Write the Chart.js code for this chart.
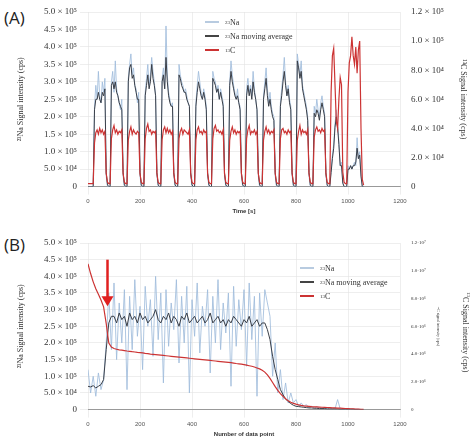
<!DOCTYPE html>
<html><head><meta charset="utf-8">
<script src="https://cdn.jsdelivr.net/npm/chart.js@4"></script>
<style>
body{margin:0;background:#fff;width:474px;height:438px;position:relative;overflow:hidden;font-family:"Open Sans",sans-serif}
.c{position:absolute;left:0}
.lab{position:absolute;font-size:17px;color:#222}
.leg{position:absolute;font-size:8px;color:#333;font-family:"Liberation Serif",serif}
.leg div{height:14px;display:flex;align-items:center}
.leg span{display:inline-block;width:14px;height:2px;margin-right:6px}
.rt{position:absolute;transform:rotate(90deg);transform-origin:left top;font-size:8px;color:#333;white-space:nowrap;font-family:"Liberation Serif",serif}
</style></head><body>
<div class="lab" style="left:4px;top:6px">(A)</div>
<div class="lab" style="left:4px;top:233px">(B)</div>
<div style="position:absolute;left:0;top:0;width:474px;height:215px"><canvas id="a" class="c"></canvas></div>
<div style="position:absolute;left:0;top:225px;width:474px;height:213px"><canvas id="b" class="c"></canvas></div>
<div class="leg" style="left:205px;top:15px">
<div><span style="background:#b8cbe0"></span><sup style="font-size:5px">23</sup>Na</div>
<div><span style="background:#444"></span><sup style="font-size:5px">23</sup>Na moving average</div>
<div><span style="background:#cc3333"></span><sup style="font-size:5px">13</sup>C</div>
</div>
<div class="leg" style="left:300px;top:261px">
<div><span style="background:#b8cbe0"></span><sup style="font-size:5px">23</sup>Na</div>
<div><span style="background:#444"></span><sup style="font-size:5px">23</sup>Na moving average</div>
<div><span style="background:#cc3333"></span><sup style="font-size:5px">13</sup>C</div>
</div>
<div class="rt" style="left:471px;top:292px"><sup style="font-size:5px">13</sup>C Signal intensity (cps)</div>
<script>
// Panel A: sampled every 5 s
const timeA = Array.from({length:213},(_,i)=>i*5);
const naA = [0,0,0,0,0,
2.3,2.9,2.5,3.3,2.6,2.4,3.0,2.7,3.1,0.3,0,0,0,
3.0,3.3,2.7,3.6,2.8,2.6,2.4,2.2,2.5,0.3,0,0,0,
3.1,3.5,3.8,3.2,3.4,2.9,2.8,2.4,2.7,0.3,0,0,0,
2.7,3.1,3.5,2.9,3.2,3.7,3.3,3.0,2.6,0.3,0,0,0,
3.1,3.4,2.8,4.6,3.2,2.7,2.5,2.3,2.4,0.3,0,0,0,
3.5,3.2,3.0,2.9,2.7,2.8,2.6,2.4,2.3,0.3,0,0,0,
2.4,2.9,3.3,3.0,2.7,2.5,2.8,2.6,2.3,0.3,0,0,0,
3.3,3.1,3.0,2.7,2.9,2.5,2.8,2.6,2.4,0.3,0,0,0,
3.0,3.6,3.2,2.9,2.7,2.5,2.8,2.4,2.3,0.3,0,0,0,
2.8,3.1,2.7,2.9,2.6,3.3,2.8,2.5,2.2,0.3,0,0,0,
2.6,3.0,3.4,2.8,2.4,2.7,2.3,2.1,2.0,0.3,0,0,0,
2.4,2.8,3.2,3.7,3.0,2.6,2.9,2.5,2.3,0.3,0,0,0,
3.8,3.5,3.2,3.6,2.9,2.7,2.5,2.3,2.0,0.3,0,0,0,
2.3,2.1,2.5,2.2,2.0,2.4,2.6,2.3,2.1,0.3,0,0,0,
0.5,0.9,1.2,1.8,2.2,1.8,1.3,0.6,0.7,0.1,0,0,0,
0.6,0.5,0.6,0.5,0.6,0.7,0.6,1.4,0.8,1.0,0.3,0,0];
const naAvgA = [0,0,0,0,0,
2.2,2.5,2.5,2.7,2.5,2.4,2.7,2.6,2.8,0.4,0.05,0,0,
2.9,3.0,2.8,3.0,2.7,2.6,2.4,2.3,2.2,0.4,0.05,0,0,
3.0,3.4,3.5,3.1,3.2,2.9,2.7,2.5,2.5,0.4,0.05,0,0,
2.6,2.9,3.2,2.8,3.0,3.5,3.1,2.9,2.6,0.4,0.05,0,0,
3.0,3.2,2.8,3.7,3.0,2.6,2.4,2.3,2.3,0.4,0.05,0,0,
3.2,3.1,2.9,2.8,2.7,2.7,2.5,2.4,2.3,0.4,0.05,0,0,
2.3,2.7,3.0,2.8,2.6,2.5,2.7,2.5,2.2,0.4,0.05,0,0,
3.1,3.0,2.9,2.7,2.8,2.5,2.7,2.5,2.3,0.4,0.05,0,0,
2.9,3.3,3.0,2.8,2.6,2.5,2.6,2.4,2.2,0.4,0.05,0,0,
2.6,2.9,2.6,2.8,2.5,3.0,2.7,2.5,2.2,0.4,0.05,0,0,
2.5,2.8,3.1,2.6,2.3,2.5,2.2,2.0,1.9,0.4,0.05,0,0,
2.3,2.6,3.0,3.3,2.9,2.6,2.8,2.4,2.2,0.4,0.05,0,0,
3.6,3.4,3.1,3.3,2.8,2.6,2.4,2.2,1.9,0.4,0.05,0,0,
2.1,2.0,2.2,2.1,1.9,2.2,2.4,2.2,2.0,0.4,0.05,0,0,
0.4,0.8,1.1,1.7,2.0,1.7,1.2,0.6,0.6,0.1,0,0,0,
0.5,0.5,0.6,0.5,0.6,0.6,0.7,1.1,0.8,0.9,0.3,0,0];
const cA = [0.2,0.2,0.2,0.2,0.2,
3.0,3.7,3.9,3.6,4.0,3.7,3.9,3.6,3.8,0.9,0.3,0.2,0.2,
3.3,3.9,4.2,3.7,3.9,3.6,3.8,3.7,3.9,0.9,0.3,0.2,0.2,
3.2,3.8,4.1,3.6,3.9,3.7,3.6,3.8,3.7,0.9,0.3,0.2,0.2,
3.3,4.0,4.3,3.8,3.9,3.6,3.8,3.7,3.8,0.9,0.3,0.2,0.2,
3.2,3.9,4.1,3.7,4.0,3.7,3.9,3.6,3.8,0.9,0.3,0.2,0.2,
3.3,3.8,4.0,3.6,3.9,3.8,3.7,3.6,3.9,0.9,0.3,0.2,0.2,
3.2,3.9,4.1,3.7,3.8,3.6,3.9,3.7,3.8,0.9,0.3,0.2,0.2,
3.3,4.0,4.2,3.8,3.9,3.7,3.8,3.6,3.9,0.9,0.3,0.2,0.2,
3.2,3.8,4.1,3.7,3.9,3.6,3.8,3.7,3.8,0.9,0.3,0.2,0.2,
3.3,3.9,4.2,3.6,3.8,3.7,3.9,3.6,3.8,0.9,0.3,0.2,0.2,
3.2,3.8,4.1,3.7,3.9,3.6,3.8,3.7,3.9,0.9,0.3,0.2,0.2,
3.3,3.9,4.0,3.7,3.8,3.6,3.9,3.7,3.8,0.9,0.3,0.2,0.2,
3.2,3.8,4.2,3.6,3.9,3.7,3.8,3.6,3.9,0.9,0.3,0.2,0.2,
3.4,3.9,4.1,3.8,3.9,3.7,4.0,3.8,3.9,0.9,0.3,0.2,0.2,
6.5,9.0,9.5,7.0,4.5,4.0,6.0,7.5,7.0,1.0,0.3,0.2,0.2,
6.5,8.5,9.0,10.3,9.0,8.4,9.6,7.8,9.4,10.0,4.0,0.5,0.1];
const naTicksA = ["0","5.0 × 10⁴","1.0 × 10⁵","1.5 × 10⁵","2.0 × 10⁵","2.5 × 10⁵","3.0 × 10⁵","3.5 × 10⁵","4.0 × 10⁵","4.5 × 10⁵","5.0 × 10⁵"];
const cTicksA = ["0","2.0 × 10⁴","4.0 × 10⁴","6.0 × 10⁴","8.0 × 10⁴","1.0 × 10⁵","1.2 × 10⁵"];
// Panel B: sampled every 10 data points
const pointB = Array.from({length:107},(_,i)=>i*10);
const naB = [1.2,0.5,1.0,0.4,1.1,0.6,0.9,2.0,3.5,1.8,
3.8,1.5,3.2,2.0,3.6,0.6,3.4,1.8,3.9,2.2,3.1,1.2,3.7,2.5,3.3,1.6,4.0,2.1,3.5,0.8,
3.6,1.9,3.2,2.4,3.9,1.4,3.4,2.0,3.7,0.5,3.3,2.2,3.8,1.7,3.1,2.5,3.6,1.1,3.4,2.0,
3.9,1.8,3.2,2.3,3.5,0.7,3.7,1.9,3.3,2.4,3.6,1.3,3.8,2.1,3.4,0.4,3.5,2.2,3.6,
3.2,2.8,1.0,2.0,0.5,1.2,0.3,0.8,0.2,0.5,0.2,0.3,0.1,0.2,0.1,0.15,0.05,0.1,0.05,0.08,
0.05,0.04,0.03,0.05,0.02,0.03,0.02,0.3,0.02,0.02,0.01,0.02,0.01,0.01,0.01,0.01,0,0];
const naAvgB = [0.7,0.68,0.72,0.65,0.7,0.75,0.9,1.8,2.6,2.8,
2.8,2.6,2.9,2.7,2.8,2.5,2.9,2.7,2.8,2.6,2.9,2.7,2.8,2.6,2.7,2.8,3.0,2.7,2.6,2.8,
2.7,2.9,2.6,2.8,2.7,2.5,2.8,2.7,2.9,2.6,2.7,2.8,2.6,2.7,2.8,2.6,2.7,2.9,2.6,2.7,
2.8,2.6,2.7,2.5,2.7,2.6,2.8,2.7,2.6,2.5,2.7,2.6,2.8,2.5,2.6,2.7,2.5,2.6,2.6,
2.4,2.1,1.6,1.2,0.9,0.6,0.45,0.32,0.24,0.18,0.13,0.1,0.09,0.08,0.07,0.06,0.05,0.05,0.04,0.04,
0.03,0.03,0.03,0.02,0.02,0.02,0.02,0.02,0.01,0.01,0.01,0.01,0.01,0.01,0,0,0,0];
const cB = [1.05,0.98,0.92,0.87,0.83,0.79,0.74,0.62,0.48,0.45,0.44,0.435,
0.43,0.428,0.425,0.422,0.42,0.417,0.415,0.412,0.41,0.408,0.405,0.403,0.40,0.398,0.396,0.394,0.392,0.39,
0.388,0.386,0.384,0.382,0.38,0.378,0.376,0.374,0.372,0.37,0.368,0.366,0.364,0.362,0.36,0.358,0.356,0.354,
0.352,0.35,0.348,0.346,0.344,0.342,0.34,0.338,0.335,0.332,0.33,0.327,0.324,0.32,0.316,0.312,0.307,0.30,
0.293,0.283,0.27,0.25,0.225,0.195,0.165,0.138,0.115,0.095,0.078,0.064,0.053,0.045,0.039,0.034,0.03,0.027,
0.025,0.023,0.021,0.02,0.019,0.018,0.017,0.016,0.015,0.014,0.013,0.012,0.011,0.01,0.009,0.008,0.007,0.006,
0.005,0.004,0.003,0.002,0.001];
const cTicksB = ["0","2.0·10⁶","4.0·10⁶","6.0·10⁶","8.0·10⁶","1.0·10⁷","1.2·10⁷"];
const arrowB = {x:75, from:4.5, to:3.1};

const pts=(xs,ys)=>ys.map((v,i)=>({x:xs[i],y:v}));
const serif='"Liberation Serif", serif';
function make(id, xs, na, avg, c, cMax, cStep, cTicks, xTitle, cTickSize, cTitle, padTop, padRight, rightW, plugins){
  const grid={color:'#e3e3e3',lineWidth:0.6};
  return new Chart(document.getElementById(id),{
    type:'line',
    data:{datasets:[
      {data:pts(xs,c),yAxisID:'yc',borderColor:'#cc3333',borderWidth:1.2,pointRadius:0,tension:0,order:1},
      {data:pts(xs,avg),yAxisID:'yn',borderColor:'#3a3f48',borderWidth:1,pointRadius:0,tension:0,order:2},
      {data:pts(xs,na),yAxisID:'yn',borderColor:'rgba(160,188,220,0.85)',borderWidth:1,pointRadius:0,tension:0,order:3}
    ]},
    options:{animation:false,responsive:true,maintainAspectRatio:false,
      layout:{padding:{left:14,right:padRight,top:padTop,bottom:0}},
      plugins:{legend:{display:false},tooltip:{enabled:false}},
      scales:{
        x:{type:'linear',min:0,max:1200,ticks:{stepSize:200,font:{size:6},color:'#555',maxRotation:0,callback:v=>String(v)},grid,border:{color:'#999'},
           title:{display:true,text:xTitle,font:{size:6,weight:'bold'},color:'#333',padding:0}},
        yn:{position:'left',min:0,max:5,ticks:{stepSize:0.5,font:{size:9,family:serif},color:'#333',callback:(v,i)=>naTicksA[i]},
           grid,border:{display:false},afterFit:s=>{s.width=74},
           title:{display:true,text:'²³Na Signal intensity (cps)',font:{size:8,family:serif},color:'#333',padding:2}},
        yc:{position:'right',min:0,max:cMax,ticks:{stepSize:cStep,font:{size:cTickSize,family:serif},color:'#333',callback:(v,i)=>cTicks[i]},
           grid:{display:false},border:{display:false},afterFit:s=>{s.width=rightW},
           title:{display:true,text:cTitle,font:{size:cTickSize==9?8:4,family:serif},color:'#333',padding:2}}
      }},
    plugins:plugins||[]
  });
}
make('a',timeA,naA,naAvgA,cA,12,2,cTicksA,'Time [s]',9,'¹³C Signal intensity (cps)',12,4,70);
const arrow={id:'arrow',afterDatasetsDraw(ch){
  const g=ch.ctx,x=ch.scales.x.getPixelForValue(arrowB.x),y1=ch.scales.yn.getPixelForValue(arrowB.from),y2=ch.scales.yn.getPixelForValue(arrowB.to);
  g.save();g.strokeStyle='#e02020';g.fillStyle='#e02020';g.lineWidth=2.5;
  g.beginPath();g.moveTo(x,y1);g.lineTo(x,y2-8);g.stroke();
  g.beginPath();g.moveTo(x-6,y2-10);g.lineTo(x+6,y2-10);g.lineTo(x,y2);g.closePath();g.fill();g.restore();}};
make('b',pointB,naB,naAvgB,cB,1.2,0.2,cTicksB,'Number of data point',5,'¹³C signal intensity (cps)',18,32,42,[arrow]);
</script>
</body></html>
